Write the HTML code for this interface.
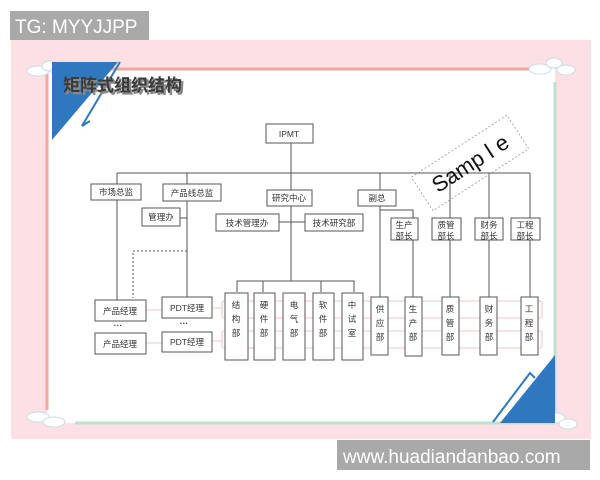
<!DOCTYPE html>
<html><head><meta charset="utf-8"><style>
body{margin:0;width:600px;height:480px;background:#fff;overflow:hidden}
svg{display:block}
text{font-family:"Liberation Sans","Noto Sans CJK SC",sans-serif}
</style></head><body>
<svg width="600" height="480" viewBox="0 0 600 480" xmlns="http://www.w3.org/2000/svg">
<rect x="10" y="11" width="139" height="29" fill="#a9a9a9"/>
<text x="15" y="33" font-size="19" fill="#fff">TG: MYYJJPP</text>
<rect x="11" y="40" width="580" height="399" fill="#fde0e3"/>
<rect x="47" y="68" width="508" height="355" fill="#fff"/>
<line x1="47" y1="69" x2="540" y2="69" stroke="#eba9a1" stroke-width="3"/>
<line x1="47" y1="69" x2="47" y2="410" stroke="#f2a9a0" stroke-width="3"/>
<line x1="555" y1="82" x2="555" y2="423" stroke="#b9e2d1" stroke-width="3"/>
<line x1="75" y1="423" x2="555" y2="423" stroke="#b9e2d1" stroke-width="3"/>
<g fill="#fff" stroke="#c8dbe8" stroke-width="1">
<ellipse cx="38" cy="71" rx="11" ry="5"/><ellipse cx="50" cy="66" rx="8" ry="5"/><ellipse cx="60" cy="71" rx="9" ry="5"/>
<ellipse cx="540" cy="69" rx="11" ry="5"/><ellipse cx="554" cy="63" rx="8" ry="5"/><ellipse cx="566" cy="70" rx="9" ry="5"/>
<ellipse cx="38" cy="417" rx="11" ry="5"/><ellipse cx="54" cy="422" rx="11" ry="5"/>
<ellipse cx="556" cy="418" rx="9" ry="5"/><ellipse cx="568" cy="424" rx="9" ry="5"/>
</g>
<polygon points="52,62 118,62 52,140" fill="#2f78c0"/>
<polyline points="120,62 82,126 90,121" fill="none" stroke="#2f78c0" stroke-width="2"/>
<polygon points="555,355 555,423 500,423" fill="#2f78c0"/>
<polyline points="493,422 530,373 535,378" fill="none" stroke="#2f78c0" stroke-width="2"/>
<text x="65" y="93" font-size="17" font-weight="bold" fill="#888" stroke="#888" stroke-width="0.5">矩阵式组织结构</text>
<text x="63" y="91" font-size="17" font-weight="bold" fill="#3a3a3a">矩阵式组织结构</text>
<g fill="none" stroke="#f0c4c8" stroke-width="1">
<rect x="222" y="301" width="320" height="17" rx="2"/>
<rect x="222" y="331" width="320" height="17" rx="2"/>
<line x1="146" y1="310" x2="162" y2="310"/>
<line x1="146" y1="343" x2="162" y2="343"/>
<line x1="212" y1="308" x2="222" y2="308"/>
<line x1="212" y1="341" x2="222" y2="341"/>
</g>
<g stroke="#555" stroke-width="1" fill="none">
<line x1="291" y1="142" x2="291" y2="281"/>
<line x1="117" y1="173" x2="530" y2="173"/>
<line x1="117" y1="173" x2="117" y2="300"/>
<line x1="187" y1="173" x2="187" y2="297"/>
<line x1="380" y1="173" x2="380" y2="297"/>
<line x1="450" y1="173" x2="450" y2="297"/>
<line x1="489" y1="173" x2="489" y2="297"/>
<line x1="530" y1="173" x2="530" y2="297"/>
<polyline points="380,210 413,210 413,297"/>
<line x1="180" y1="218" x2="187" y2="218"/>
<line x1="279" y1="222" x2="305" y2="222"/>
<polyline points="237,292 237,281 354,281 354,292"/>
<line x1="263" y1="281" x2="263" y2="292"/>
<line x1="321" y1="281" x2="321" y2="292"/>
<polyline points="187,251 133,251 133,298" stroke-dasharray="2,2"/>
</g>
<g fill="#fff" stroke="#555" stroke-width="1">
<rect x="266" y="124" width="47" height="19"/>
<rect x="91" y="184" width="50" height="16"/>
<rect x="163" y="184" width="58" height="17"/>
<rect x="267" y="190" width="45" height="16"/>
<rect x="358" y="190" width="38" height="16"/>
<rect x="142" y="208" width="38" height="18"/>
<rect x="216" y="214" width="63" height="17"/>
<rect x="305" y="214" width="58" height="17"/>
<rect x="391" y="218" width="27" height="22"/>
<rect x="432" y="218" width="29" height="22"/>
<rect x="475" y="218" width="28" height="22"/>
<rect x="511" y="218" width="29" height="22"/>
<rect x="225" y="293" width="23" height="67"/>
<rect x="254" y="293" width="21" height="67"/>
<rect x="283" y="293" width="22" height="67"/>
<rect x="313" y="293" width="21" height="67"/>
<rect x="342" y="293" width="21" height="67"/>
<rect x="371" y="297" width="17" height="58"/>
<rect x="405" y="297" width="17" height="59"/>
<rect x="442" y="297" width="17" height="58"/>
<rect x="480" y="297" width="17" height="58"/>
<rect x="521" y="297" width="17" height="58"/>
<rect x="95" y="300" width="51" height="21"/>
<rect x="162" y="297" width="50" height="21"/>
<rect x="95" y="333" width="51" height="21"/>
<rect x="162" y="332" width="50" height="20"/>
</g>
<g font-size="8.5" fill="#333" text-anchor="middle">
<text x="289" y="137">IPMT</text>
<text x="116" y="195">市场总监</text>
<text x="192" y="196">产品线总监</text>
<text x="289" y="201">研究中心</text>
<text x="377" y="201">副总</text>
<text x="161" y="220">管理办</text>
<text x="247" y="226">技术管理办</text>
<text x="334" y="226">技术研究部</text>
<text x="404" y="228">生产</text><text x="404" y="239">部长</text>
<text x="446" y="228">质管</text><text x="446" y="239">部长</text>
<text x="489" y="228">财务</text><text x="489" y="239">部长</text>
<text x="525" y="228">工程</text><text x="525" y="239">部长</text>
<text x="120" y="314">产品经理</text>
<text x="187" y="311">PDT经理</text>
<text x="120" y="347">产品经理</text>
<text x="187" y="345">PDT经理</text>
<text x="118" y="328" font-weight="bold">···</text>
<text x="184" y="326" font-weight="bold">···</text>
</g>
<g font-size="8.5" fill="#333" text-anchor="middle">
<text x="236" y="308">结</text><text x="236" y="322">构</text><text x="236" y="336">部</text>
<text x="264" y="308">硬</text><text x="264" y="322">件</text><text x="264" y="336">部</text>
<text x="294" y="308">电</text><text x="294" y="322">气</text><text x="294" y="336">部</text>
<text x="323" y="308">软</text><text x="323" y="322">件</text><text x="323" y="336">部</text>
<text x="352" y="308">中</text><text x="352" y="322">试</text><text x="352" y="336">室</text>
<text x="380" y="312">供</text><text x="380" y="326">应</text><text x="380" y="340">部</text>
<text x="413" y="312">生</text><text x="413" y="326">产</text><text x="413" y="340">部</text>
<text x="450" y="312">质</text><text x="450" y="326">管</text><text x="450" y="340">部</text>
<text x="489" y="312">财</text><text x="489" y="326">务</text><text x="489" y="340">部</text>
<text x="529" y="312">工</text><text x="529" y="326">程</text><text x="529" y="340">部</text>
</g>
<g transform="translate(470,163) rotate(-33)">
<rect x="-57" y="-20" width="114" height="40" fill="none" stroke="#999" stroke-width="0.8" stroke-dasharray="2,2"/>
<text x="0" y="8" font-size="22" text-anchor="middle" fill="#111">Samp l e</text>
</g>
<rect x="337" y="440" width="253" height="30" fill="#a9a9a9"/>
<text x="343" y="463" font-size="19" fill="#fff">www.huadiandanbao.com</text>
</svg>
</body></html>
